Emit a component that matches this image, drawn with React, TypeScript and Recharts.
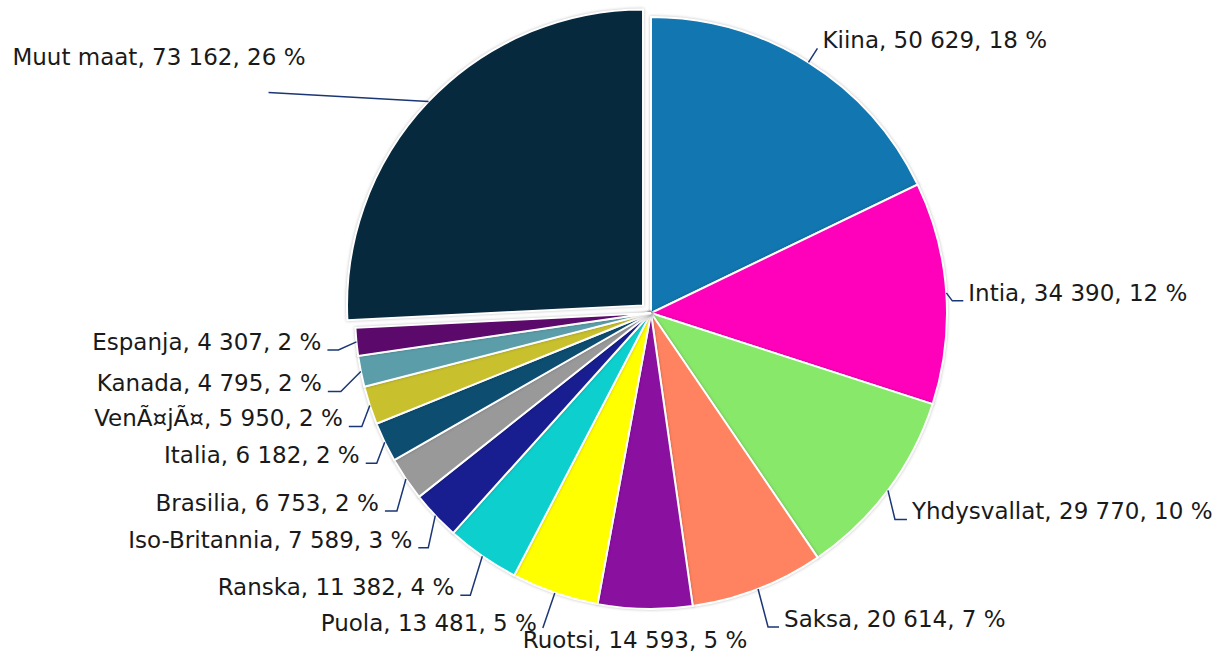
import { PieChart, Pie, Cell } from 'recharts'

const countries = [
  'Kiina', 'Intia', 'Yhdysvallat', 'Saksa', 'Ruotsi', 'Puola', 'Ranska',
  'Iso-Britannia', 'Brasilia', 'Italia', 'VenÃ¤jÃ¤', 'Kanada', 'Espanja', 'Muut maat',
]
const amounts = [50629, 34390, 29770, 20614, 14593, 13481, 11382, 7589, 6753, 6182, 5950, 4795, 4307, 73162]

const colors = [
  '#1277B0', '#FF00BB', '#88E86A', '#FF8360', '#8A10A0', '#FFFF00', '#0DD0CE',
  '#181E8F', '#999999', '#0C4D70', '#C8C02C', '#5B9EAA', '#5B0A6B', '#07293D',
]

// which slice is pulled out, and how far
const EXPLODED = 13
const EXPLODE_DIST = 11

// leader line elbows relative to the slice edge point (Excel-style hand placed labels)
const labelLayout: { dx: number; dy: number; tail: number; noLine?: boolean; anchor?: string; tx?: number; ty?: number }[] = [
  { dx: 9, dy: -14, tail: 0 },
  { dx: 6, dy: 8, tail: 11 },
  { dx: 7, dy: 29, tail: 12 },
  { dx: 10, dy: 38, tail: 11 },
  { dx: -10, dy: 31, tail: 0, noLine: true, anchor: 'middle', tx: 0, ty: 0 },
  { dx: -12, dy: 35, tail: 0, ty: -5 },
  { dx: -12, dy: 39, tail: -10 },
  { dx: -7, dy: 32, tail: -10 },
  { dx: -9, dy: 32, tail: -12 },
  { dx: -8, dy: 21, tail: -11 },
  { dx: -8, dy: 21, tail: -13 },
  { dx: -20, dy: 20, tail: -13 },
  { dx: -18, dy: 8, tail: -11 },
  { dx: -160, dy: -9, tail: 0, anchor: 'end', tx: 37, ty: -35 },
]

const RADIAN = Math.PI / 180

const data = countries.map((name, i) => ({ name, value: amounts[i] }))

const total = amounts.reduce((a, b) => a + b, 0)
const before = amounts.slice(0, EXPLODED).reduce((a, b) => a + b, 0)
const explodeAngle = 90 - (360 * (before + amounts[EXPLODED] / 2)) / total
const explodeDx = EXPLODE_DIST * Math.cos(explodeAngle * RADIAN)
const explodeDy = -EXPLODE_DIST * Math.sin(explodeAngle * RADIAN)

const fmt = (v: number) => v.toString().replace(/\B(?=(\d{3})+(?!\d))/g, ' ')

const CX = 651
const CY = 313
const R = 296

function renderLabel(props: any) {
  const { cx, cy, midAngle, outerRadius, index, value, percent } = props
  const lay = labelLayout[index]
  let ex = cx + outerRadius * Math.cos(-midAngle * RADIAN)
  let ey = cy + outerRadius * Math.sin(-midAngle * RADIAN)
  if (index === EXPLODED) {
    ex += explodeDx
    ey += explodeDy
  }
  const bx = ex + lay.dx
  const by = ey + lay.dy
  const right = lay.dx > 0
  const endX = bx + lay.tail
  let anchor = lay.anchor || (right ? 'start' : 'end')
  let tx = lay.tx !== undefined ? bx + lay.tx : right ? endX + 5 : endX - 6
  let ty = by + (lay.ty !== undefined ? lay.ty : -8)
  const text = `${countries[index]}, ${fmt(value)}, ${Math.round(percent * 100)} %`
  return (
    <g key={`lbl-${index}`}>
      {!lay.noLine && (
        <polyline
          points={`${ex},${ey} ${bx},${by} ${endX},${by}`}
          fill="none"
          stroke="#1B3675"
          strokeWidth={1.5}
        />
      )}
      <text
        x={tx}
        y={ty}
        textAnchor={anchor as any}
        dominantBaseline="central"
        fill="#1a1a1a"
        fontSize={23}
        fontFamily="'DejaVu Sans', Verdana, sans-serif"
      >
        {text}
      </text>
    </g>
  )
}

export default function App() {
  return (
    <div style={{ position: 'absolute', left: 0, top: 0, width: 1216, height: 655, background: '#fff' }}>
      <style>{`.recharts-pie-sector path { filter: drop-shadow(0 0 1.5px rgba(0,0,0,0.25)); }`}</style>
      <PieChart width={1216} height={655} margin={{ top: 0, right: 0, bottom: 0, left: 0 }}>
        <Pie
          data={data}
          dataKey="value"
          nameKey="name"
          cx={CX}
          cy={CY}
          outerRadius={R}
          startAngle={90}
          endAngle={-270}
          stroke="#fff"
          strokeWidth={2}
          label={renderLabel}
          labelLine={false}
          isAnimationActive={false}
        >
          {data.map((d, i) => (
            <Cell
              key={d.name}
              fill={i === EXPLODED ? 'none' : colors[i]}
              stroke={i === EXPLODED ? 'none' : '#fff'}
            />
          ))}
        </Pie>
        <Pie
          data={data}
          dataKey="value"
          nameKey="name"
          cx={CX + explodeDx}
          cy={CY + explodeDy}
          outerRadius={R}
          startAngle={90}
          endAngle={-270}
          stroke="#fff"
          strokeWidth={2}
          isAnimationActive={false}
        >
          {data.map((d, i) => (
            <Cell
              key={d.name}
              fill={i === EXPLODED ? colors[i] : 'none'}
              stroke={i === EXPLODED ? '#fff' : 'none'}
            />
          ))}
        </Pie>
      </PieChart>
    </div>
  )
}
